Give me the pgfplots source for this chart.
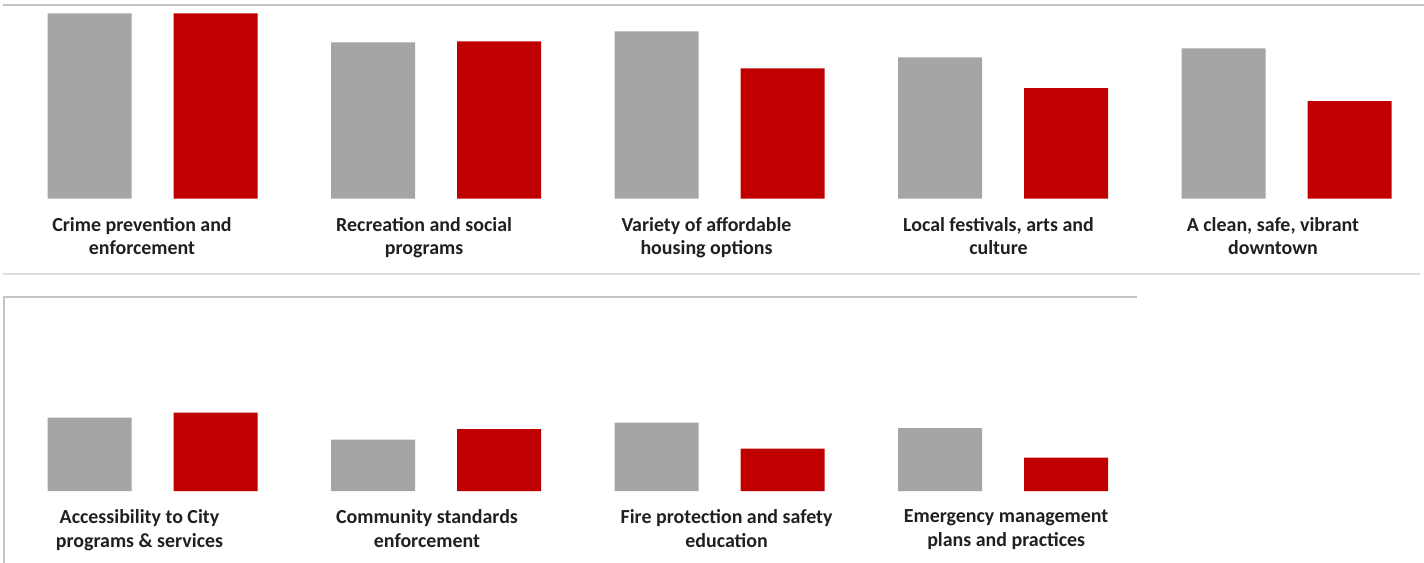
\documentclass[border=0pt]{standalone}
\usepackage{pgfplots}
\pgfplotsset{compat=1.18}
\usepackage{fontspec}
\setmainfont{Carlito}
\definecolor{bargray}{HTML}{A5A5A5}
\definecolor{barred}{HTML}{C00000}
\definecolor{framegray}{HTML}{C4C4C4}
\definecolor{sepgray}{HTML}{DCDCDC}
\definecolor{labeltext}{HTML}{202020}

\pgfplotsset{
  panel/.style={
    scale only axis, width=1424bp, height=194bp,
    xmin=-0.538, xmax=4.485, ymin=0, ymax=194,
    ybar=42bp, bar width=84bp,
    axis line style={draw=none},
    major tick length=0pt,
    ytick=\empty,
    xticklabel style={align=center, text=labeltext, yshift=-15bp,
      font=\bfseries\fontsize{20}{24}\selectfont},
  },
  graybar/.style={fill=bargray, draw=none},
  redbar/.style={fill=barred, draw=none},
}

\begin{document}
\begin{tikzpicture}[x=1bp,y=1bp]
\useasboundingbox (0,0) rectangle (1424,-563);

% frame lines
\draw[framegray, line width=2bp] (3,-5) -- (1424,-5);
\draw[sepgray, line width=1.2bp] (3,-274) -- (1420,-274);
\draw[framegray, line width=2bp] (4,-563) -- (4,-297) -- (1137,-297);

% top panel (labels sit a little left of the bar pairs)
\begin{axis}[panel, at={(0,-198.5)}, anchor=south west,
  xtick={-0.037,0.958,1.954,2.984,3.952},
  xticklabels={{Crime prevention and\\enforcement},
               {Recreation and social\\programs},
               {Variety of affordable\\housing options},
               {Local festivals, arts and\\culture},
               {A clean, safe, vibrant\\downtown}}]
\addplot[graybar] coordinates {(0,185) (1,156) (2,167) (3,141) (4,150)};
\addplot[redbar] coordinates {(0,185) (1,157) (2,130) (3,110.5) (4,97.5)};
\end{axis}

% bottom panel
\begin{axis}[panel, at={(0,-491)}, anchor=south west,
  xtick={-0.046,0.968,2.025,3.011},
  xticklabels={{Accessibility to City\\programs \& services},
               {Community standards\\enforcement},
               {Fire protection and safety\\education},
               {Emergency management\\plans and practices}}]
\addplot[graybar] coordinates {(0,73.5) (1,51.5) (2,68.5) (3,63)};
\addplot[redbar] coordinates {(0,78.5) (1,62) (2,42.5) (3,33.5)};
\end{axis}
\end{tikzpicture}
\end{document}
